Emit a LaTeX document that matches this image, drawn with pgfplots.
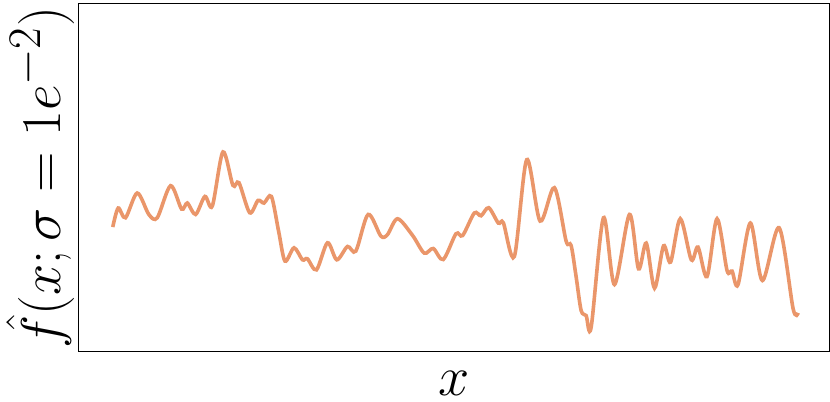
\documentclass[border=0pt]{standalone}
\usepackage{pgfplots}
\pgfplotsset{compat=1.18}
\definecolor{curve}{RGB}{234,150,106}
\newcommand{\biglabel}[1]{\scalebox{1.125}{#1}}

\begin{document}
\begin{tikzpicture}
\begin{axis}[
  scale only axis,
  width=375pt, height=174pt,
  xmin=78, xmax=828, ymin=0, ymax=348,
  y dir=reverse,
  ticks=none,
  axis line style={line width=0.5pt},
  xlabel={\biglabel{$x$}}, ylabel={\biglabel{$\hat{f}(x;\sigma=1e^{-2})$}},
  label style={font=\Huge},
  xlabel style={yshift=-6pt},
  ylabel style={yshift=-1.5pt}]
% curve, pixel units
\addplot[curve, line width=1.8pt, smooth, tension=0.5] coordinates {
  (112.3,223.3)(117.7,204.3)(125,214)(136.7,189.3)(148.3,210.7)(156.7,214)
  (170,182)(181,205.3)(186.7,199.3)(195,210.7)(204.3,192.7)(211.7,202.3)
  (222.3,148.3)(232.3,181.7)(238.3,179)(249,209)(257.3,196.7)(263.3,199.3)
  (270.7,192.7)(278,228)(284.3,257.3)(293.3,244)(301.7,256)(306.7,255)
  (315.7,266)(326.7,239)(336,256)(346.7,242.7)(355,247.3)(367.3,210.7)
  (380,232.3)(386.7,230.7)(396.7,215)(411.7,231.7)(423.3,249.3)(432.3,244.7)
  (442.3,255.7)(455,230)(461.7,231.7)(473.3,209.3)(480,212)(487.7,204)
  (497.3,219.3)(502.3,219)(513.3,252.7)(525.7,156)(539,217.3)(553.3,184)
  (565,237.3)(570,241.7)(575,273)(580,306.7)(585,311.7)(590,323.3)
  (602.3,214)(613.3,280.7)(628.3,210.7)(637.3,265)(645,239.3)(653.3,284.3)
  (662.3,242)(669.3,258.3)(679,215)(690,256)(696.7,243.3)(705.7,272.7)
  (715.7,215)(725.7,266.7)(730.7,267.3)(736.7,280.7)(749,219.3)(761,276.7)
  (777.7,224)(791.7,305)(796.7,309)};
\end{axis}
\end{tikzpicture}
\end{document}
